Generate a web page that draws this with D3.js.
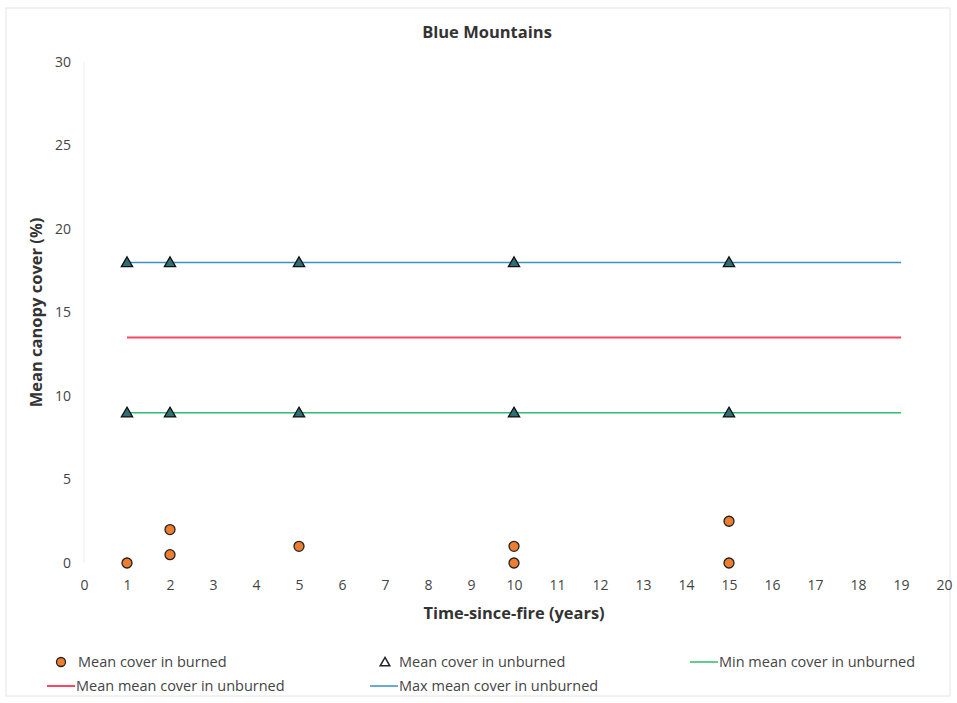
<!DOCTYPE html>
<html>
<head>
<meta charset="utf-8">
<script src="https://cdn.jsdelivr.net/npm/d3@7"></script>
<style>
  html, body { margin: 0; padding: 0; background: #fff; }
  svg { display: block; font-family: "Open Sans", "Noto Sans", sans-serif; }
</style>
</head>
<body>
<svg id="chart" width="957" height="703"></svg>
<script>
// Time since fire (years) and mean canopy cover in burned sites
const burnedYears = [1, 2, 2, 5, 10, 10, 15, 15];
const burnedCover = [0, 2, 0.5, 1, 1, 0, 2.5, 0];

// Unburned reference sites
const unburnedYears = [1, 2, 5, 10, 15, 1, 2, 5, 10, 15];
const unburnedCover = [18, 18, 18, 18, 18, 9, 9, 9, 9, 9];

// Reference lines across the time span
const lineYears = [1, 19];
const minMeanUnburned = 9;
const meanMeanUnburned = 13.5;
const maxMeanUnburned = 18;

const xTicks = d3.range(0, 21, 1);
const yTicks = [0, 5, 10, 15, 20, 25, 30];

const legendLabels = [
  "Mean cover in burned",
  "Mean cover in unburned",
  "Min mean cover in unburned",
  "Mean mean cover in unburned",
  "Max mean cover in unburned"
];

const colors = {
  burned: "#ed7d31",
  unburned: "#2f6f73",
  min: "#2dbd72",
  mean: "#ff4466",
  max: "#3a8fc4"
};

const svg = d3.select("#chart");

// chart frame
svg.append("rect")
  .attr("x", 6).attr("y", 8).attr("width", 944).attr("height", 688)
  .attr("fill", "#fff").attr("stroke", "#e4e4e4").attr("stroke-width", 1);

const x = d3.scaleLinear().domain([0, 20]).range([84, 944]);
const y = d3.scaleLinear().domain([0, 30]).range([563, 62]);

// faint left axis line
svg.append("line")
  .attr("x1", x(0)).attr("x2", x(0)).attr("y1", y(30)).attr("y2", y(0))
  .attr("stroke", "#eeeeee");

// title
svg.append("text")
  .attr("x", 487).attr("y", 38)
  .attr("text-anchor", "middle")
  .attr("font-size", 16.5).attr("font-weight", "bold").attr("fill", "#333")
  .text("Blue Mountains");

// axes (labels only)
const xAxis = d3.axisBottom(x).tickValues(xTicks).tickSize(0).tickPadding(0);
const gx = svg.append("g").attr("transform", `translate(0, 590)`).call(xAxis);
gx.select(".domain").remove();
gx.selectAll("text").attr("font-size", 14).attr("fill", "#444")
  .attr("font-family", "Open Sans, sans-serif").attr("dy", 0);

const yAxis = d3.axisLeft(y).tickValues(yTicks).tickSize(0).tickPadding(0);
const gy = svg.append("g").attr("transform", `translate(71, 0)`).call(yAxis);
gy.select(".domain").remove();
gy.selectAll("text").attr("font-size", 14).attr("fill", "#444")
  .attr("font-family", "Open Sans, sans-serif");

// axis titles
svg.append("text")
  .attr("x", 514).attr("y", 619)
  .attr("text-anchor", "middle")
  .attr("font-size", 16.4).attr("font-weight", "bold").attr("fill", "#333")
  .text("Time-since-fire (years)");

svg.append("text")
  .attr("transform", `translate(42, ${(y(0) + y(30)) / 2}) rotate(-90)`)
  .attr("text-anchor", "middle")
  .attr("font-size", 16.5).attr("font-weight", "bold").attr("fill", "#333")
  .text("Mean canopy cover (%)");

// reference lines
const refLines = [
  { v: maxMeanUnburned, c: colors.max, w: 1.5 },
  { v: meanMeanUnburned, c: colors.mean, w: 2 },
  { v: minMeanUnburned, c: colors.min, w: 1.5 }
];
const lineGen = d3.line().x(d => x(d[0])).y(d => y(d[1]));
refLines.forEach(r => {
  svg.append("path")
    .attr("d", lineGen(lineYears.map(t => [t, r.v])))
    .attr("fill", "none").attr("stroke", r.c).attr("stroke-width", r.w);
});

// unburned triangles
const tri = d3.symbol().type(d3.symbolTriangle).size(55);
svg.append("g").selectAll("path")
  .data(unburnedYears.map((t, i) => [t, unburnedCover[i]]))
  .join("path")
  .attr("d", tri)
  .attr("transform", d => `translate(${x(d[0])}, ${y(d[1]) + 1})`)
  .attr("fill", colors.unburned).attr("stroke", "#111").attr("stroke-width", 1.3);

// burned circles
svg.append("g").selectAll("circle")
  .data(burnedYears.map((t, i) => [t, burnedCover[i]]))
  .join("circle")
  .attr("cx", d => x(d[0])).attr("cy", d => y(d[1]))
  .attr("r", 5)
  .attr("fill", colors.burned).attr("stroke", "#222").attr("stroke-width", 1.3);

// legend
const lg = svg.append("g").attr("font-size", 14.5).attr("fill", "#444");
const legendItems = [
  { type: "circle", x: 61, y: 662, label: legendLabels[0] },
  { type: "triangle", x: 385, y: 662, label: legendLabels[1] },
  { type: "line", x: 690, y: 662, c: colors.min, label: legendLabels[2] },
  { type: "line", x: 47, y: 686, c: colors.mean, label: legendLabels[3] },
  { type: "line", x: 370, y: 686, c: colors.max, label: legendLabels[4] }
];
legendItems.forEach(it => {
  let tx;
  if (it.type === "circle") {
    lg.append("circle").attr("cx", it.x).attr("cy", it.y).attr("r", 4.5)
      .attr("fill", colors.burned).attr("stroke", "#222").attr("stroke-width", 1.3);
    tx = it.x + 17;
  } else if (it.type === "triangle") {
    lg.append("path").attr("d", d3.symbol().type(d3.symbolTriangle).size(40))
      .attr("transform", `translate(${it.x}, ${it.y + 1})`)
      .attr("fill", "#fff").attr("stroke", "#222").attr("stroke-width", 1.5);
    tx = it.x + 14;
  } else {
    lg.append("line").attr("x1", it.x).attr("x2", it.x + 28)
      .attr("y1", it.y).attr("y2", it.y)
      .attr("stroke", it.c).attr("stroke-width", it.c === colors.mean ? 2 : 1.5);
    tx = it.x + 29;
  }
  lg.append("text").attr("x", tx).attr("y", it.y + 5).text(it.label);
});
</script>
</body>
</html>
